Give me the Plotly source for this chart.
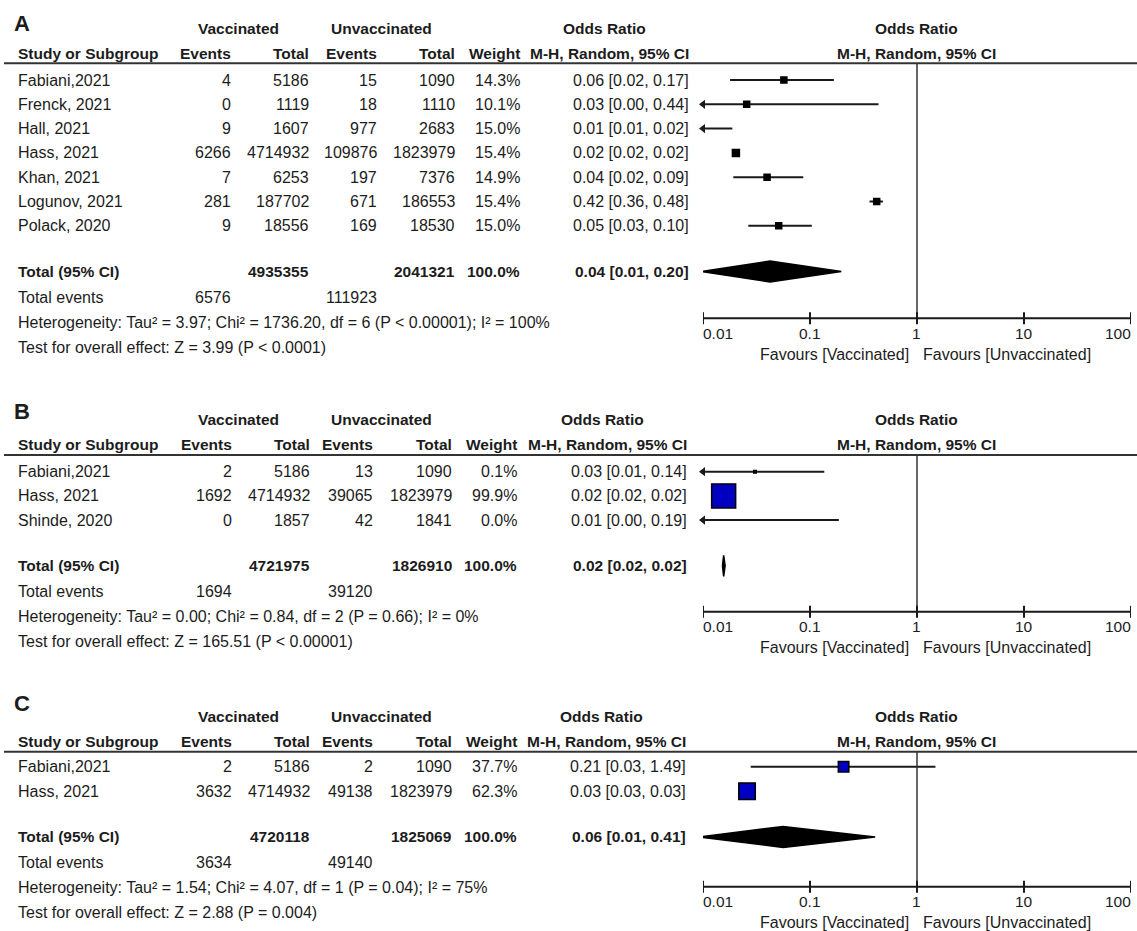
import math
import plotly.graph_objects as go

W, H = 1137, 931
FONT = "Liberation Sans, Arial, Helvetica, sans-serif"
TXT = "#1c1c1c"
BLUE = "#0000c0"
BLACK = "#000000"

# ---------------- Panel A ----------------
a_study = ["Fabiani,2021", "Frenck, 2021", "Hall, 2021", "Hass, 2021",
           "Khan, 2021", "Logunov, 2021", "Polack, 2020"]
a_vac_events = [4, 0, 9, 6266, 7, 281, 9]
a_vac_total = [5186, 1119, 1607, 4714932, 6253, 187702, 18556]
a_unvac_events = [15, 18, 977, 109876, 197, 671, 169]
a_unvac_total = [1090, 1110, 2683, 1823979, 7376, 186553, 18530]
a_weight = [14.3, 10.1, 15.0, 15.4, 14.9, 15.4, 15.0]
a_or = [0.057, 0.0256, 0.0085, 0.0203, 0.0397, 0.42, 0.051]
a_lo = [0.0179, 0.002, 0.006, 0.0196, 0.0192, 0.36, 0.0265]
a_hi = [0.167, 0.437, 0.0188, 0.0210, 0.0866, 0.48, 0.104]
a_total = [4935355, 2041321, 100.0]
a_events = [6576, 111923]
a_pooled = [0.0423, 0.0098, 0.196]
a_het = "Tau² = 3.97; Chi² = 1736.20, df = 6 (P &lt; 0.00001); I² = 100%"
a_test = "Z = 3.99 (P &lt; 0.0001)"

# ---------------- Panel B ----------------
b_study = ["Fabiani,2021", "Hass, 2021", "Shinde, 2020"]
b_vac_events = [2, 1692, 0]
b_vac_total = [5186, 4714932, 1857]
b_unvac_events = [13, 39065, 42]
b_unvac_total = [1090, 1823979, 1841]
b_weight = [0.1, 99.9, 0.0]
b_or = [0.0306, 0.0156, 0.0075]
b_lo = [0.0065, 0.0153, 0.0004]
b_hi = [0.136, 0.0159, 0.186]
b_total = [4721975, 1826910, 100.0]
b_events = [1694, 39120]
b_pooled = [0.0156, 0.0152, 0.0161]
b_het = "Tau² = 0.00; Chi² = 0.84, df = 2 (P = 0.66); I² = 0%"
b_test = "Z = 165.51 (P &lt; 0.00001)"

# ---------------- Panel C ----------------
c_study = ["Fabiani,2021", "Hass, 2021"]
c_vac_events = [2, 3632]
c_vac_total = [5186, 4714932]
c_unvac_events = [2, 49138]
c_unvac_total = [1090, 1823979]
c_weight = [37.7, 62.3]
c_or = [0.206, 0.0258]
c_lo = [0.0279, 0.0255]
c_hi = [1.487, 0.0261]
c_total = [4720118, 1825069, 100.0]
c_events = [3634, 49140]
c_pooled = [0.056, 0.0092, 0.406]
c_het = "Tau² = 1.54; Chi² = 4.07, df = 1 (P = 0.04); I² = 75%"
c_test = "Z = 2.88 (P = 0.004)"

ticks = [0.01, 0.1, 1, 10, 100]
tick_text = ["0.01", "0.1", "1", "10", "100"]

# ---------------- layout (pixel positions, top-down) ----------------
X_LO, X_HI = 703, 1131          # pixel span of the forest axis
NAME_X = 18
panels = [
    dict(letter="A", study=a_study, ve=a_vac_events, vt=a_vac_total, ue=a_unvac_events,
         ut=a_unvac_total, w=a_weight, orr=a_or, lo=a_lo, hi=a_hi, tot=a_total,
         ev=a_events, pooled=a_pooled, het=a_het, test=a_test,
         sizes=[6, 6, 6, 7, 6, 6, 6], fill=BLACK,
         letter_y=23.3, rule_y=63.3, row0=80, step=24.3, axis_y=318.3,
         cols=[231.4, 309, 376.8, 455.4, 520.4], or_x=688.5),
    dict(letter="B", study=b_study, ve=b_vac_events, vt=b_vac_total, ue=b_unvac_events,
         ut=b_unvac_total, w=b_weight, orr=b_or, lo=b_lo, hi=b_hi, tot=b_total,
         ev=b_events, pooled=b_pooled, het=b_het, test=b_test,
         sizes=[2.5, 24, 0], fill=BLUE,
         letter_y=411.7, rule_y=455, row0=471.7, step=24.2, axis_y=611.7,
         cols=[232, 310, 373, 451.5, 517], or_x=686.6),
    dict(letter="C", study=c_study, ve=c_vac_events, vt=c_vac_total, ue=c_unvac_events,
         ut=c_unvac_total, w=c_weight, orr=c_or, lo=c_lo, hi=c_hi, tot=c_total,
         ev=c_events, pooled=c_pooled, het=c_het, test=c_test,
         sizes=[10.5, 16.5], fill=BLUE,
         letter_y=703.3, rule_y=751.7, row0=766.7, step=24.5, axis_y=886.7,
         cols=[232, 310, 373, 451.5, 517], or_x=685.5),
]

fig = go.Figure()
ann = []
shapes = []


def txt(x, y, s, anchor="left", bold=False, size=None, ref="paper"):
    ann.append(dict(
        x=x / W if ref == "paper" else x, y=y, xref=ref, yref="y",
        text=f"<b>{s}</b>" if bold else s, showarrow=False,
        xanchor=anchor, yanchor="middle", borderpad=0, borderwidth=0,
        font=dict(family=FONT, size=size or (15.5 if bold else 16), color=TXT)))


def ci_text(v, lo, hi):
    return f"{v:.2f} [{lo:.2f}, {hi:.2f}]"


x_min = ticks[0]
for p in panels:
    n = len(p["study"])
    rows = [p["row0"] + i * p["step"] for i in range(n)]
    total_y = rows[-1] + 45.7
    events_y = total_y + 26
    het_y = events_y + 24.5
    test_y = het_y + 25
    rule = p["rule_y"]
    c = p["cols"]

    # headers
    txt(14, p["letter_y"], p["letter"], bold=True, size=22)
    txt(238, rule - 35.3, "Vaccinated", anchor="center", bold=True)
    txt(381, rule - 35.3, "Unvaccinated", anchor="center", bold=True)
    txt(p["or_x"] - 84, rule - 35.3, "Odds Ratio", anchor="center", bold=True)
    txt(0, rule - 35.3, "Odds Ratio", anchor="center", bold=True, ref="x")
    txt(NAME_X, rule - 10.3, "Study or Subgroup", bold=True)
    for xr, lab in zip(c, ["Events", "Total", "Events", "Total", "Weight"]):
        txt(xr, rule - 10.3, lab, anchor="right", bold=True)
    txt(p["or_x"], rule - 10.3, "M-H, Random, 95% CI", anchor="right", bold=True)
    txt(0, rule - 10.3, "M-H, Random, 95% CI", anchor="center", bold=True, ref="x")
    shapes.append(dict(type="line", xref="paper", yref="y", x0=4 / W, x1=1,
                       y0=rule, y1=rule, line=dict(color="#333333", width=2)))

    # study rows
    for i in range(n):
        y = rows[i]
        txt(NAME_X, y, p["study"][i])
        for xr, v in zip(c, [p["ve"][i], p["vt"][i], p["ue"][i], p["ut"][i]]):
            txt(xr, y, str(v), anchor="right")
        txt(c[4], y, f"{p['w'][i]:.1f}%", anchor="right")
        txt(p["or_x"], y, ci_text(p["orr"][i], p["lo"][i], p["hi"][i]), anchor="right")

    # totals
    txt(NAME_X, total_y, "Total (95% CI)", bold=True)
    txt(c[1], total_y, str(p["tot"][0]), anchor="right", bold=True)
    txt(c[3], total_y, str(p["tot"][1]), anchor="right", bold=True)
    txt(c[4], total_y, f"{p['tot'][2]:.1f}%", anchor="right", bold=True)
    txt(p["or_x"], total_y, ci_text(*p["pooled"]), anchor="right", bold=True)
    txt(NAME_X, events_y, "Total events")
    txt(c[0], events_y, str(p["ev"][0]), anchor="right")
    txt(c[2], events_y, str(p["ev"][1]), anchor="right")
    txt(NAME_X, het_y, "Heterogeneity: " + p["het"])
    txt(NAME_X, test_y, "Test for overall effect: " + p["test"])

    # confidence intervals
    lx, ly = [], []
    for i in range(n):
        lx += [p["lo"][i], p["hi"][i], None]
        ly += [rows[i], rows[i], None]
    fig.add_trace(go.Scatter(x=lx, y=ly, mode="lines", hoverinfo="skip",
                             line=dict(color="#1a1a1a", width=2)))
    # arrows where the interval runs past the axis
    arr = [rows[i] for i in range(n) if p["lo"][i] < x_min]
    if arr:
        fig.add_trace(go.Scatter(x=[x_min] * len(arr), y=arr, mode="markers",
                                 cliponaxis=False, hoverinfo="skip",
                                 marker=dict(symbol="triangle-left", size=8,
                                             color="#1a1a1a", opacity=1)))
    # point estimates
    fig.add_trace(go.Scatter(x=p["orr"], y=rows, mode="markers", hoverinfo="skip",
                             marker=dict(symbol="square", size=p["sizes"], color=p["fill"],
                                         opacity=1,
                                         line=dict(color="#000000", width=1.5))))
    # pooled diamond
    est, plo, phi = p["pooled"]
    dh = 10.5
    fig.add_trace(go.Scatter(x=[plo, est, phi, est, plo],
                             y=[total_y, total_y - dh, total_y, total_y + dh, total_y],
                             mode="lines", fill="toself", fillcolor="#000000",
                             line=dict(color="#000000", width=1.5), hoverinfo="skip"))
    # line of no effect
    fig.add_trace(go.Scatter(x=[1, 1], y=[rule, p["axis_y"]], mode="lines",
                             hoverinfo="skip", line=dict(color="#333333", width=1.5)))
    # axis with ticks
    ax_x = [ticks[0], ticks[-1], None]
    ax_y = [p["axis_y"], p["axis_y"], None]
    for t in ticks:
        ax_x += [t, t, None]
        ax_y += [p["axis_y"] - 6, p["axis_y"] + 6, None]
    fig.add_trace(go.Scatter(x=ax_x, y=ax_y, mode="lines", cliponaxis=False,
                             hoverinfo="skip", line=dict(color="#1a1a1a", width=2)))
    for k, (t, lab) in enumerate(zip(ticks, tick_text)):
        anchor = "left" if k == 0 else ("right" if k == len(ticks) - 1 else "center")
        txt(math.log10(t), p["axis_y"] + 15, lab, anchor=anchor, size=15.5, ref="x")
    fav_y = p["axis_y"] + 36
    txt(909, fav_y, "Favours [Vaccinated]", anchor="right")
    txt(923, fav_y, "Favours [Unvaccinated]", anchor="left")

fig.update_layout(
    width=W, height=H, autosize=False, showlegend=False,
    margin=dict(l=0, r=0, t=0, b=0),
    paper_bgcolor="white", plot_bgcolor="rgba(0,0,0,0)",
    xaxis=dict(type="log", range=[math.log10(ticks[0]), math.log10(ticks[-1])],
               domain=[X_LO / W, X_HI / W], visible=False, fixedrange=True),
    yaxis=dict(range=[H, 0], domain=[0, 1], visible=False, fixedrange=True),
    annotations=ann, shapes=shapes,
)

fig.write_html("out.html")
